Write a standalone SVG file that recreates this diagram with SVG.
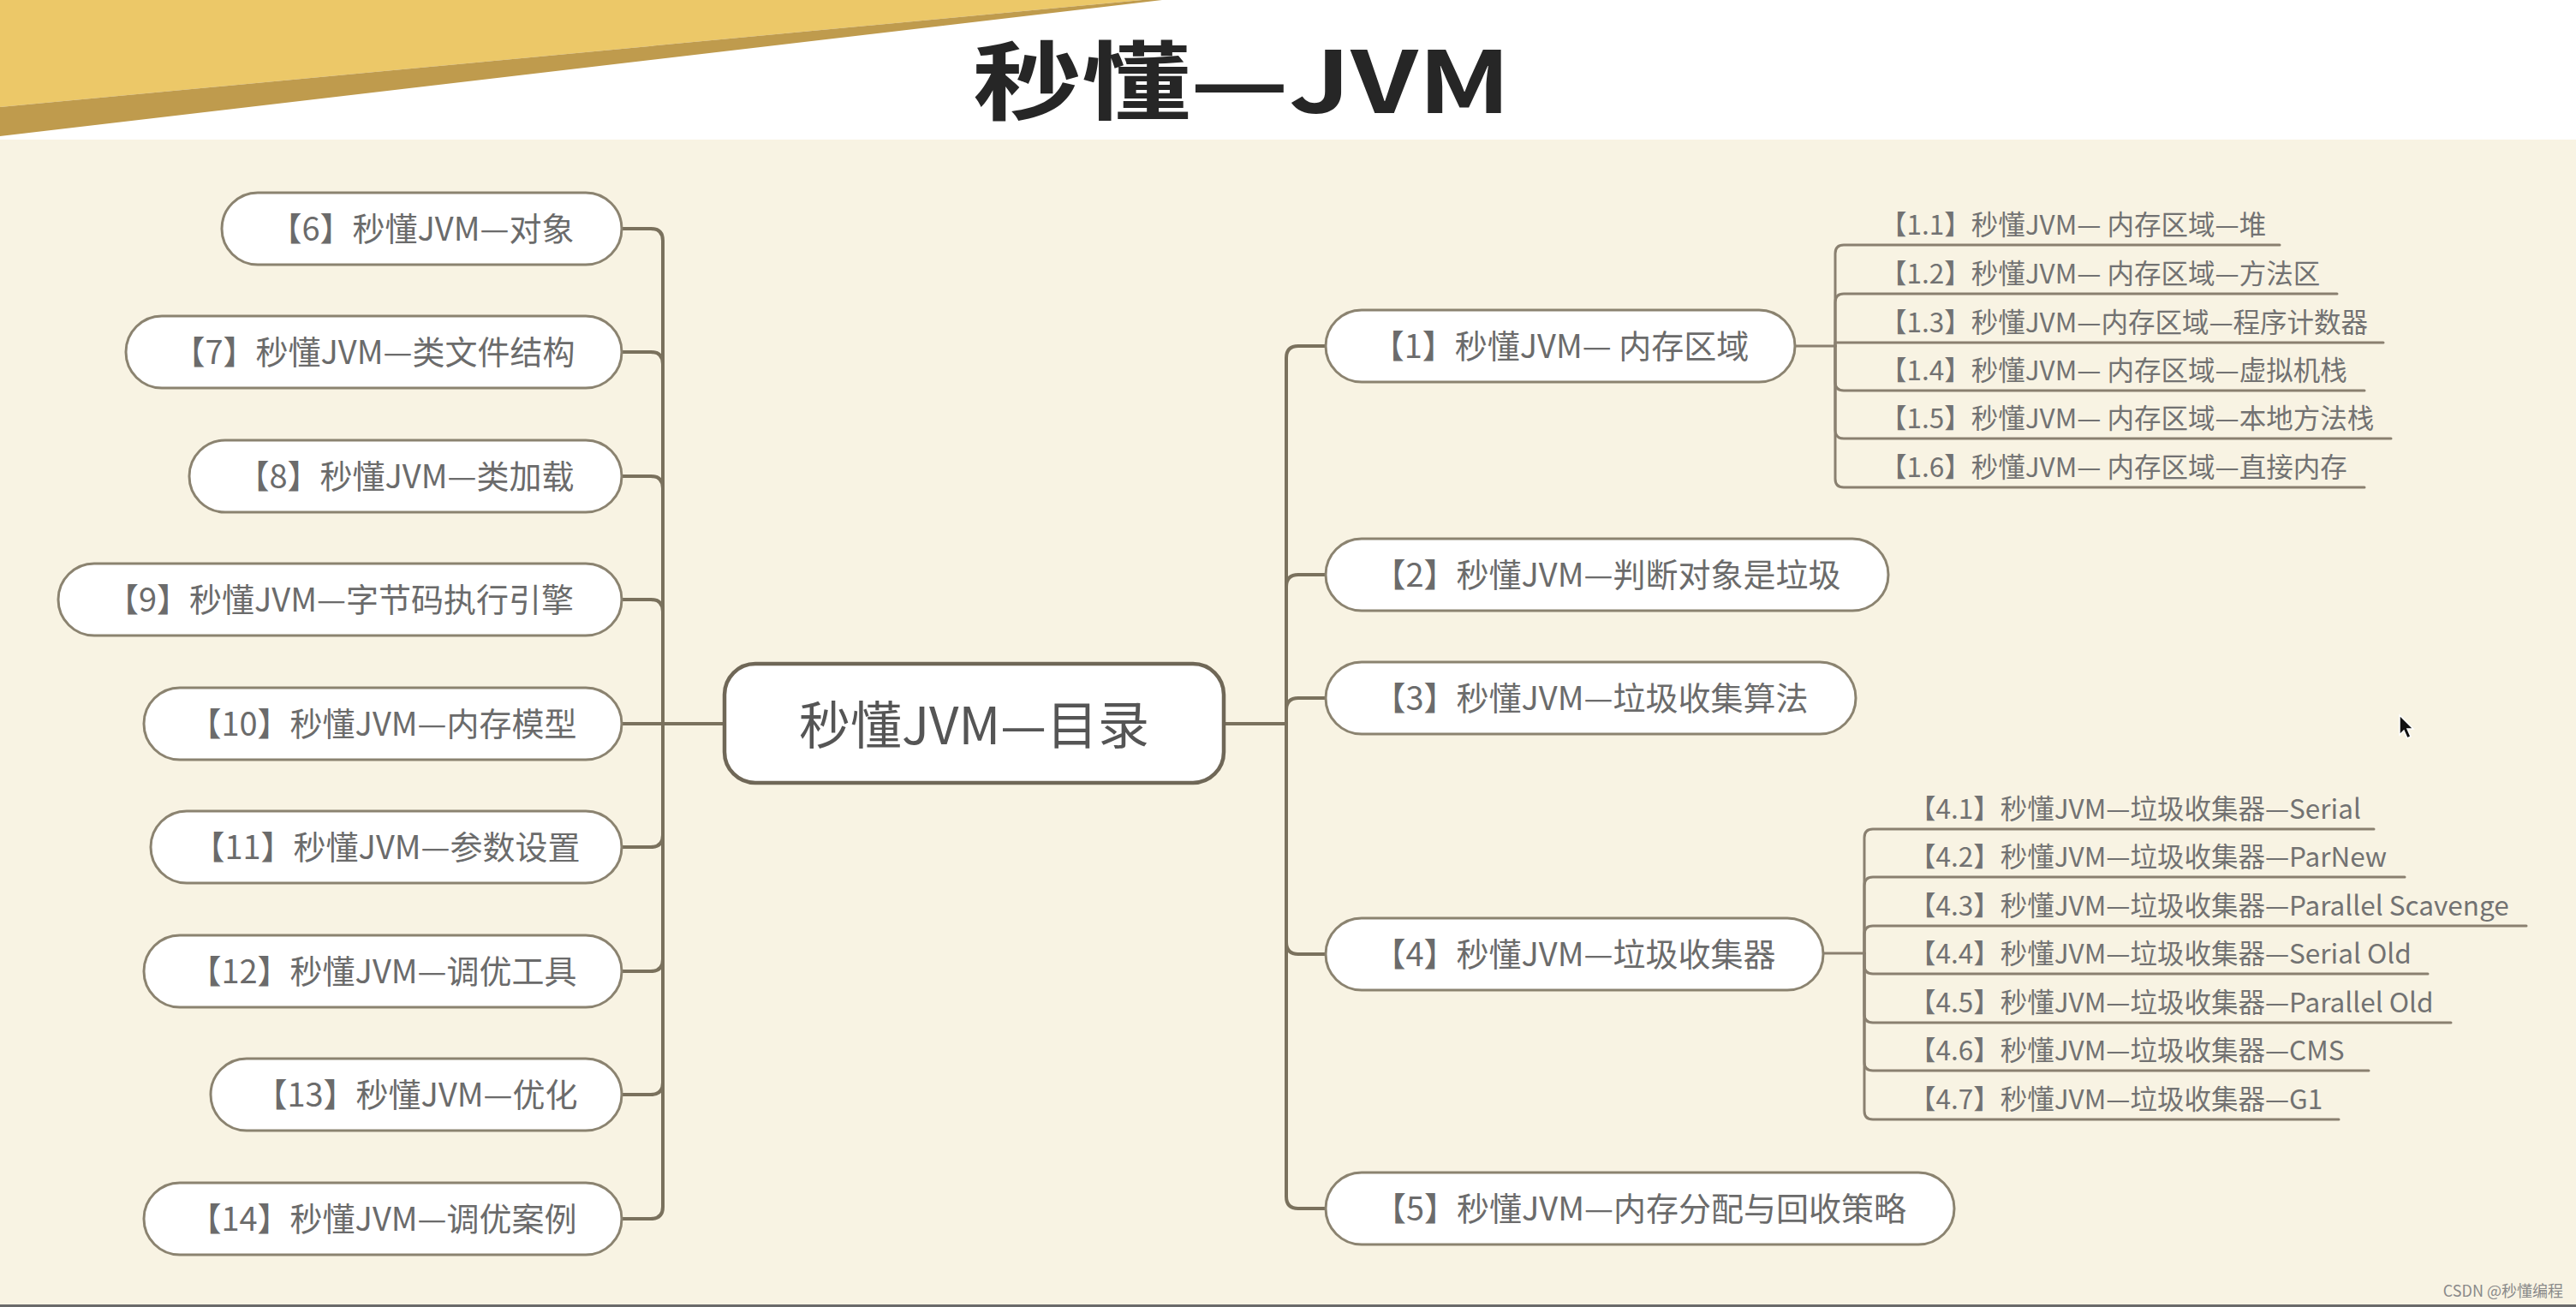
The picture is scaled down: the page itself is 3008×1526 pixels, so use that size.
<svg xmlns="http://www.w3.org/2000/svg" width="3008" height="1526" viewBox="0 0 3008 1526">
<style>
.bg{fill:#f8f3e3}
.node{fill:#ffffff;stroke:#8b8370;stroke-width:3}
.root{fill:#ffffff;stroke:#6f6757;stroke-width:4.5}
.lbl{font-family:"Noto Sans CJK SC","Noto Sans",sans-serif;font-size:38px;fill:#6b6b6b;text-anchor:middle;dominant-baseline:central}
.sub{font-family:"Noto Sans CJK SC","Noto Sans",sans-serif;font-size:31.5px;fill:#727272}
.conn{fill:none;stroke:#7a715d;stroke-width:4;stroke-linecap:round;stroke-linejoin:round}
.sconn{fill:none;stroke:#8a8070;stroke-width:3;stroke-linecap:round;stroke-linejoin:round}
</style>
<rect class="bg" x="0" y="0" width="3008" height="1526"/>
<rect x="0" y="0" width="3008" height="163" fill="#ffffff"/>
<polygon points="0,0 1334,0 0,125" fill="#ecc868"/>
<polygon points="0,125 1334,0 1357,0 0,159" fill="#bf9b4d"/>
<rect x="0" y="1523" width="3008" height="3" fill="#6a6a6a"/>
<text x="1450" y="132" text-anchor="middle" font-family="'Noto Sans CJK SC','Noto Sans',sans-serif" font-weight="700" font-size="100" fill="#262626" textLength="628" lengthAdjust="spacingAndGlyphs">秒懂—JVM</text>

<g id="connectors">
<path class="conn" d="M846 845 H774 V281 Q774 267 760 267 H726"/>
<path class="conn" d="M846 845 H774 V425 Q774 411 760 411 H726"/>
<path class="conn" d="M846 845 H774 V570 Q774 556 760 556 H726"/>
<path class="conn" d="M846 845 H774 V714 Q774 700 760 700 H726"/>
<path class="conn" d="M846 845 H726"/>
<path class="conn" d="M846 845 H774 V975 Q774 989 760 989 H726"/>
<path class="conn" d="M846 845 H774 V1120 Q774 1134 760 1134 H726"/>
<path class="conn" d="M846 845 H774 V1264 Q774 1278 760 1278 H726"/>
<path class="conn" d="M846 845 H774 V1409 Q774 1423 760 1423 H726"/>
<path class="conn" d="M1429 845 H1502 V418 Q1502 404 1516 404 H1548"/>
<path class="conn" d="M1429 845 H1502 V685 Q1502 671 1516 671 H1548"/>
<path class="conn" d="M1429 845 H1502 V829 Q1502 815 1516 815 H1548"/>
<path class="conn" d="M1429 845 H1502 V1100 Q1502 1114 1516 1114 H1548"/>
<path class="conn" d="M1429 845 H1502 V1397 Q1502 1411 1516 1411 H1548"/>
<path class="sconn" d="M2096 404 H2143"/>
<path class="sconn" d="M2143 404 V296 Q2143 286 2153 286 H2662"/>
<path class="sconn" d="M2143 404 V353 Q2143 343 2153 343 H2729"/>
<path class="sconn" d="M2143 404 V400 H2783"/>
<path class="sconn" d="M2143 404 V446 Q2143 456 2153 456 H2761"/>
<path class="sconn" d="M2143 404 V502 Q2143 512 2153 512 H2792"/>
<path class="sconn" d="M2143 404 V559 Q2143 569 2153 569 H2761"/>
<path class="sconn" d="M2129 1113 H2177"/>
<path class="sconn" d="M2177 1113 V978 Q2177 968 2187 968 H2772"/>
<path class="sconn" d="M2177 1113 V1034 Q2177 1024 2187 1024 H2808"/>
<path class="sconn" d="M2177 1113 V1091 Q2177 1081 2187 1081 H2950"/>
<path class="sconn" d="M2177 1113 V1127 Q2177 1137 2187 1137 H2835"/>
<path class="sconn" d="M2177 1113 V1184 Q2177 1194 2187 1194 H2862"/>
<path class="sconn" d="M2177 1113 V1240 Q2177 1250 2187 1250 H2766"/>
<path class="sconn" d="M2177 1113 V1297 Q2177 1307 2187 1307 H2731"/>
</g>

<g id="root">
<rect class="root" x="846" y="775" width="583" height="139" rx="36"/>
<text x="1137.5" y="842" font-family="'Noto Sans CJK SC','Noto Sans',sans-serif" font-size="60" fill="#555555" text-anchor="middle" dominant-baseline="central">秒懂JVM—目录</text>
</g>

<g id="n6"><rect class="node" x="259" y="225" width="467" height="84" rx="42"/><text class="lbl" x="492.5" y="264">【6】秒懂JVM—对象</text></g>
<g id="n7"><rect class="node" x="147" y="369" width="579" height="84" rx="42"/><text class="lbl" x="436.5" y="408">【7】秒懂JVM—类文件结构</text></g>
<g id="n8"><rect class="node" x="221" y="514" width="505" height="84" rx="42"/><text class="lbl" x="473.5" y="553">【8】秒懂JVM—类加载</text></g>
<g id="n9"><rect class="node" x="68" y="658" width="658" height="84" rx="42"/><text class="lbl" x="397" y="697">【9】秒懂JVM—字节码执行引擎</text></g>
<g id="n10"><rect class="node" x="168" y="803" width="558" height="84" rx="42"/><text class="lbl" x="447" y="842">【10】秒懂JVM—内存模型</text></g>
<g id="n11"><rect class="node" x="176" y="947" width="550" height="84" rx="42"/><text class="lbl" x="451" y="986">【11】秒懂JVM—参数设置</text></g>
<g id="n12"><rect class="node" x="168" y="1092" width="558" height="84" rx="42"/><text class="lbl" x="447" y="1131">【12】秒懂JVM—调优工具</text></g>
<g id="n13"><rect class="node" x="246" y="1236" width="480" height="84" rx="42"/><text class="lbl" x="486" y="1275">【13】秒懂JVM—优化</text></g>
<g id="n14"><rect class="node" x="168" y="1381" width="558" height="84" rx="42"/><text class="lbl" x="447" y="1420">【14】秒懂JVM—调优案例</text></g>

<g id="n1"><rect class="node" x="1548" y="362" width="548" height="84" rx="42"/><text class="lbl" x="1822" y="401">【1】秒懂JVM— 内存区域</text></g>
<g id="n2"><rect class="node" x="1548" y="629" width="657" height="84" rx="42"/><text class="lbl" x="1876.5" y="668">【2】秒懂JVM—判断对象是垃圾</text></g>
<g id="n3"><rect class="node" x="1548" y="773" width="619" height="84" rx="42"/><text class="lbl" x="1857.5" y="812">【3】秒懂JVM—垃圾收集算法</text></g>
<g id="n4"><rect class="node" x="1548" y="1072" width="581" height="84" rx="42"/><text class="lbl" x="1838.5" y="1111">【4】秒懂JVM—垃圾收集器</text></g>
<g id="n5"><rect class="node" x="1548" y="1369" width="734" height="84" rx="42"/><text class="lbl" x="1915" y="1408">【5】秒懂JVM—内存分配与回收策略</text></g>

<g id="n1-1"><text class="sub" x="2195" y="274">【1.1】秒懂JVM— 内存区域—堆</text></g>
<g id="n1-2"><text class="sub" x="2195" y="331">【1.2】秒懂JVM— 内存区域—方法区</text></g>
<g id="n1-3"><text class="sub" x="2195" y="388">【1.3】秒懂JVM—内存区域—程序计数器</text></g>
<g id="n1-4"><text class="sub" x="2195" y="444">【1.4】秒懂JVM— 内存区域—虚拟机栈</text></g>
<g id="n1-5"><text class="sub" x="2195" y="500">【1.5】秒懂JVM— 内存区域—本地方法栈</text></g>
<g id="n1-6"><text class="sub" x="2195" y="557">【1.6】秒懂JVM— 内存区域—直接内存</text></g>

<g id="n4-1"><text class="sub" x="2229" y="956">【4.1】秒懂JVM—垃圾收集器—Serial</text></g>
<g id="n4-2"><text class="sub" x="2229" y="1012">【4.2】秒懂JVM—垃圾收集器—ParNew</text></g>
<g id="n4-3"><text class="sub" x="2229" y="1069">【4.3】秒懂JVM—垃圾收集器—Parallel Scavenge</text></g>
<g id="n4-4"><text class="sub" x="2229" y="1125">【4.4】秒懂JVM—垃圾收集器—Serial Old</text></g>
<g id="n4-5"><text class="sub" x="2229" y="1182">【4.5】秒懂JVM—垃圾收集器—Parallel Old</text></g>
<g id="n4-6"><text class="sub" x="2229" y="1238">【4.6】秒懂JVM—垃圾收集器—CMS</text></g>
<g id="n4-7"><text class="sub" x="2229" y="1295">【4.7】秒懂JVM—垃圾收集器—G1</text></g>

<path d="M2802 835 L2802 858 L2807 853 L2811 862 L2815 860 L2811 851 L2818 851 Z" fill="#111111" stroke="#ffffff" stroke-width="1.5"/>
<text x="2993" y="1514" text-anchor="end" font-family="'Noto Sans CJK SC','Noto Sans',sans-serif" font-size="18" fill="#8a8a8a">CSDN @秒懂编程</text>
</svg>
